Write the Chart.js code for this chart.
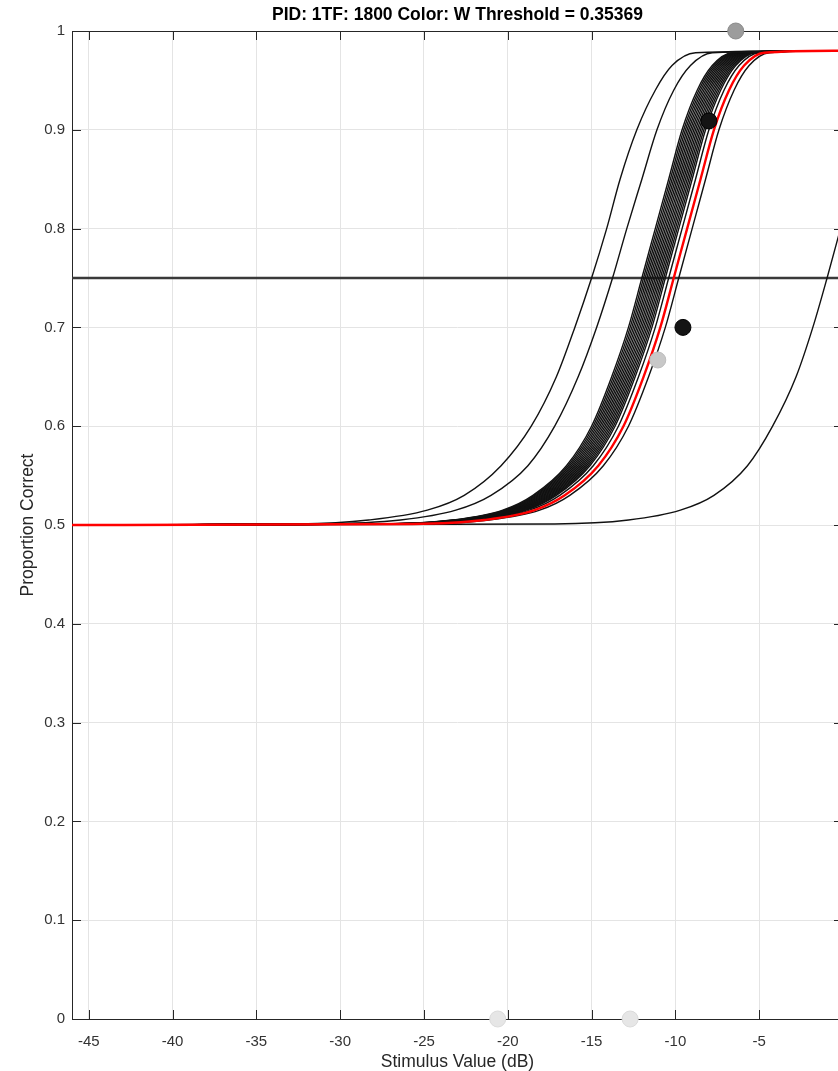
<!DOCTYPE html>
<html>
<head>
<meta charset="utf-8">
<script src="https://cdn.jsdelivr.net/npm/chart.js"></script>
<style>
  html, body { margin: 0; padding: 0; background: #fff; overflow: hidden; }
  #wrap { width: 838px; height: 1071px; overflow: hidden; position: relative; }
  #psyChart { display: block; position: absolute; left: 0; top: 0; width: 852px; height: 1071px; }
</style>
</head>
<body>
<div id="wrap"><canvas id="psyChart" width="852" height="1071"></canvas></div>
<script>
// axis ranges and ticks
const xMin = -46, xMax = 0;
const xTicks = [-45, -40, -35, -30, -25, -20, -15, -10, -5, 0];
const yTicks = [0, 0.1, 0.2, 0.3, 0.4, 0.5, 0.6, 0.7, 0.8, 0.9, 1];

// guess rate / upper asymptote of the fitted functions
const lowerY = 0.5, upperY = 0.98;
const criterion = 0.75;

// proportion-correct levels at which the x of each curve was read
const levels = [0.501, 0.505, 0.515, 0.53, 0.56, 0.6, 0.65, 0.7, 0.75, 0.8, 0.85, 0.9, 0.94, 0.965, 0.978];

// main fit (red)
const fitX = [-25.7, -21.4, -18.4, -16.6, -14.6, -13.1, -11.9, -10.9, -10.1, -9.3, -8.5, -7.7, -6.8, -5.9, -4.7];

// bootstrap fits (black)
const bootX = [
  [-27.6, -23.3, -20.3, -18.5, -16.5, -15.0, -13.8, -12.8, -12.0, -11.2, -10.4, -9.6, -8.7, -7.8, -6.6],
  [-27.5, -23.2, -20.2, -18.4, -16.4, -14.9, -13.7, -12.7, -11.9, -11.1, -10.3, -9.5, -8.6, -7.7, -6.5],
  [-27.4, -23.1, -20.1, -18.3, -16.3, -14.8, -13.6, -12.6, -11.8, -11.0, -10.2, -9.4, -8.5, -7.6, -6.4],
  [-27.3, -23.0, -20.0, -18.2, -16.2, -14.7, -13.5, -12.5, -11.7, -10.9, -10.1, -9.3, -8.4, -7.5, -6.3],
  [-27.2, -22.9, -19.9, -18.1, -16.1, -14.6, -13.4, -12.4, -11.6, -10.8, -10.0, -9.2, -8.3, -7.4, -6.2],
  [-27.1, -22.8, -19.8, -18.0, -16.0, -14.5, -13.3, -12.3, -11.5, -10.7, -9.9, -9.1, -8.2, -7.3, -6.1],
  [-27.0, -22.7, -19.7, -17.9, -15.9, -14.4, -13.2, -12.2, -11.4, -10.6, -9.8, -9.0, -8.1, -7.2, -6.0],
  [-26.9, -22.6, -19.6, -17.8, -15.8, -14.3, -13.1, -12.1, -11.3, -10.5, -9.7, -8.9, -8.0, -7.1, -5.9],
  [-26.8, -22.5, -19.5, -17.7, -15.7, -14.2, -13.0, -12.0, -11.2, -10.4, -9.6, -8.8, -7.9, -7.0, -5.8],
  [-26.7, -22.4, -19.4, -17.6, -15.6, -14.1, -12.9, -11.9, -11.1, -10.3, -9.5, -8.7, -7.8, -6.9, -5.7],
  [-26.6, -22.3, -19.3, -17.5, -15.5, -14.0, -12.8, -11.8, -11.0, -10.2, -9.4, -8.6, -7.7, -6.8, -5.6],
  [-26.5, -22.2, -19.2, -17.4, -15.4, -13.9, -12.7, -11.7, -10.9, -10.1, -9.3, -8.5, -7.6, -6.7, -5.5],
  [-26.4, -22.1, -19.1, -17.3, -15.3, -13.8, -12.6, -11.6, -10.8, -10.0, -9.2, -8.4, -7.5, -6.6, -5.4],
  [-26.3, -22.0, -19.0, -17.2, -15.2, -13.7, -12.5, -11.5, -10.7, -9.9, -9.1, -8.3, -7.4, -6.5, -5.3],
  [-26.2, -21.9, -18.9, -17.1, -15.1, -13.6, -12.4, -11.4, -10.6, -9.8, -9.0, -8.2, -7.3, -6.4, -5.2],
  [-26.0, -21.7, -18.7, -16.9, -14.9, -13.4, -12.2, -11.2, -10.4, -9.6, -8.8, -8.0, -7.1, -6.2, -5.0],
  [-25.4, -21.1, -18.1, -16.3, -14.3, -12.8, -11.6, -10.6, -9.8, -9.0, -8.2, -7.4, -6.5, -5.6, -4.4],
  [-32.5, -28.3, -24.8, -22.6, -20.4, -18.6, -17.1, -16.0, -15.0, -14.1, -13.3, -12.3, -11.2, -10.2, -8.8],
  [-31.3, -26.4, -23.1, -21.0, -18.8, -17.2, -15.8, -14.7, -13.75, -12.9, -12.0, -11.1, -10.1, -9.1, -7.8]
];
// one fit that is still rising at the right edge (levels 0.501 .. 0.8 only)
const lateX = [-17.2, -12.8, -9.7, -7.7, -5.7, -4.2, -2.8, -1.8, -0.95, -0.15];

// observed proportions
const obsX = [-6.4, -8.0, -9.55, -11.05, -20.6, -12.7];
const obsY = [1.0, 0.909, 0.70, 0.667, 0, 0];
const obsFill = ['#9c9c9c', '#141414', '#141414', '#c8c8c8', '#e6e6e6', '#e6e6e6'];
const obsEdge = ['#8a8a8a', '#000000', '#000000', '#bdbdbd', '#dadada', '#dadada'];

const titleText = 'PID: 1TF: 1800 Color: W Threshold = 0.35369';
const FONT = '"Liberation Sans", Arial, Helvetica, sans-serif';

function curve(xs, plateau) {
  const pts = [{ x: xMin, y: lowerY }];
  xs.forEach((x, i) => pts.push({ x: x, y: levels[i] }));
  if (plateau) pts.push({ x: xMax, y: upperY });
  return pts;
}

function lineSet(data, color, width) {
  return {
    data: data,
    showLine: true,
    borderColor: color,
    borderWidth: width,
    pointRadius: 0,
    fill: false,
    cubicInterpolationMode: 'monotone'
  };
}

const datasets = [];
// observed points on top
datasets.push({
  data: obsX.map((x, i) => ({ x: x, y: obsY[i] })),
  pointRadius: 8,
  pointBackgroundColor: obsFill,
  pointBorderColor: obsEdge,
  pointBorderWidth: 1,
  showLine: false,
  clip: false
});
datasets.push(lineSet(curve(fitX, true), '#ff0000', 2.4));
bootX.forEach(xs => datasets.push(lineSet(curve(xs, true), '#111111', 1.4)));
datasets.push(lineSet(curve(lateX, false), '#111111', 1.4));
datasets.push({
  data: [{ x: xMin, y: criterion }, { x: xMax, y: criterion }],
  showLine: true,
  borderColor: '#3a3a3a',
  borderWidth: 2.5,
  pointRadius: 0
});

const frame = {
  id: 'frame',
  beforeDatasetsDraw(chart) {
    const { ctx, chartArea: a, scales } = chart;
    ctx.save();
    ctx.strokeStyle = '#262626';
    ctx.lineWidth = 1;
    ctx.strokeRect(Math.round(a.left) + 0.5, Math.round(a.top) + 0.5,
      Math.round(a.right - a.left), Math.round(a.bottom - a.top));
    ctx.beginPath();
    xTicks.forEach(v => {
      const px = Math.round(scales.x.getPixelForValue(v)) + 0.5;
      ctx.moveTo(px, a.bottom); ctx.lineTo(px, a.bottom - 9);
      ctx.moveTo(px, a.top); ctx.lineTo(px, a.top + 9);
    });
    yTicks.forEach(v => {
      const py = Math.round(scales.y.getPixelForValue(v)) + 0.5;
      ctx.moveTo(a.left, py); ctx.lineTo(a.left + 9, py);
      ctx.moveTo(a.right, py); ctx.lineTo(a.right - 9, py);
    });
    ctx.stroke();
    ctx.restore();
  },
  afterDraw(chart) {
    const { ctx, chartArea: a } = chart;
    ctx.save();
    ctx.fillStyle = '#000';
    ctx.font = 'bold 17.5px ' + FONT;
    ctx.textAlign = 'center';
    ctx.textBaseline = 'middle';
    ctx.fillText(titleText, (a.left + a.right) / 2, 15);
    ctx.restore();
  }
};

new Chart(document.getElementById('psyChart'), {
  type: 'scatter',
  data: { datasets: datasets },
  options: {
    responsive: false,
    animation: false,
    events: [],
    layout: { padding: { top: 31, right: 5, left: 0, bottom: 0 } },
    plugins: {
      legend: { display: false },
      tooltip: { enabled: false }
    },
    scales: {
      x: {
        type: 'linear',
        min: xMin,
        max: xMax,
        afterBuildTicks: s => { s.ticks = xTicks.map(v => ({ value: v })); },
        afterFit: s => { s.height = 52; s.paddingLeft = 0; s.paddingRight = 0; },
        grid: { color: '#e4e4e4', drawTicks: false },
        border: { display: false },
        ticks: {
          padding: 14,
          color: '#333',
          font: { family: FONT, size: 15 },
          maxRotation: 0,
          autoSkip: false,
          callback: v => String(v)
        },
        title: {
          display: true,
          text: 'Stimulus Value (dB)',
          color: '#262626',
          font: { family: FONT, size: 17.5 },
          padding: { top: 0, bottom: -2 }
        }
      },
      y: {
        type: 'linear',
        min: 0,
        max: 1,
        afterBuildTicks: s => { s.ticks = yTicks.map(v => ({ value: v })); },
        afterFit: s => { s.width = 72; s.paddingTop = 0; s.paddingBottom = 0; },
        grid: { color: '#e4e4e4', drawTicks: false },
        border: { display: false },
        ticks: {
          padding: 7,
          color: '#333',
          font: { family: FONT, size: 15 },
          autoSkip: false,
          callback: v => String(+v.toFixed(1))
        },
        title: {
          display: true,
          text: 'Proportion Correct',
          color: '#262626',
          font: { family: FONT, size: 17.5 },
          padding: { top: 17.5, bottom: 0 }
        }
      }
    }
  },
  plugins: [frame]
});
</script>
</body>
</html>
